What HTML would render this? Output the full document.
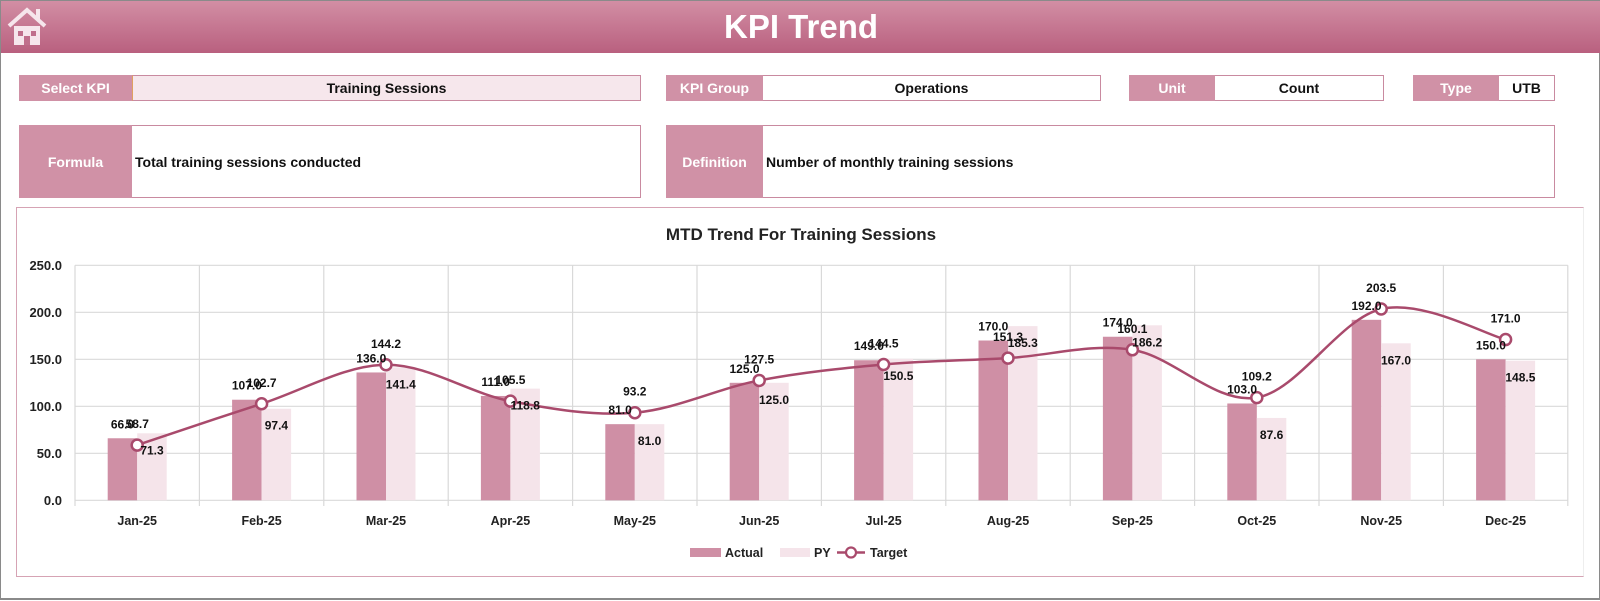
<!DOCTYPE html>
<html><head><meta charset="utf-8"><style>
body{margin:0;width:1600px;height:600px;overflow:hidden;background:#fff;font-family:"Liberation Sans",sans-serif}
#root{position:relative;width:1600px;height:600px;box-sizing:border-box;border:1px solid #8a8a8a;border-bottom:2px solid #8a8a8a}
.hdr{position:absolute;left:0;top:0;width:1600px;height:52px;background:linear-gradient(#d28ea4,#b9607f)}
.hdr h1{margin:0;text-align:center;color:#fff;font-size:33px;line-height:52px;font-weight:bold}
.b{position:absolute;box-sizing:border-box;display:flex;align-items:center;font-weight:bold;font-size:14px;color:#111}
.l{background:#d091a6;color:#fff;justify-content:center}
.v{background:#fff;border:1.5px solid #c98aa0;border-left:none}
.c{justify-content:center}
</style></head><body><div id="root">
<div class="hdr"><h1>KPI Trend</h1>
<svg style="position:absolute;left:5px;top:5px" width="42" height="40" viewBox="0 0 42 40"><path d="M3 20 L21 4 L39 20" stroke="#f6e6ec" stroke-width="4" fill="none"/><rect x="30" y="3" width="4" height="10" fill="#f6e6ec"/><rect x="8" y="20" width="26" height="19" fill="#f6e6ec"/><rect x="12" y="25" width="5" height="5" fill="#c06f8c"/><rect x="25" y="25" width="5" height="5" fill="#c06f8c"/><rect x="18" y="30" width="6" height="9" fill="#c06f8c"/></svg>
</div>
<div class="b l" style="left:18px;top:74px;width:113px;height:26px">Select KPI</div>
<div class="b v c" style="left:131px;top:74px;width:509px;height:26px;background:#f6e7ec;border-left:1px solid #e0a060">Training Sessions</div>
<div class="b l" style="left:665px;top:74px;width:97px;height:26px">KPI Group</div>
<div class="b v c" style="left:762px;top:74px;width:338px;height:26px">Operations</div>
<div class="b l" style="left:1128px;top:74px;width:86px;height:26px">Unit</div>
<div class="b v c" style="left:1214px;top:74px;width:169px;height:26px">Count</div>
<div class="b l" style="left:1412px;top:74px;width:86px;height:26px">Type</div>
<div class="b v c" style="left:1498px;top:74px;width:56px;height:26px">UTB</div>
<div class="b l" style="left:18px;top:124px;width:113px;height:73px">Formula</div>
<div class="b v" style="left:131px;top:124px;width:509px;height:73px;padding-left:3px">Total training sessions conducted</div>
<div class="b l" style="left:665px;top:124px;width:97px;height:73px">Definition</div>
<div class="b v" style="left:762px;top:124px;width:792px;height:73px;padding-left:3px">Number of monthly training sessions</div>
<div style="position:absolute;left:15px;top:206px;width:1568px;height:370px;box-sizing:border-box;border:1.5px solid #d6a3b4;border-right-color:#eee"></div>
<svg id="ch" style="position:absolute;left:0;top:0" width="1600" height="600" font-family="Liberation Sans, sans-serif" font-weight="bold">
<text x="800" y="239" text-anchor="middle" font-size="17" fill="#222">MTD Trend For Training Sessions</text>
<g id="grid" stroke="#d9d9d9" stroke-width="1.2"></g>
<g id="bars"></g>
<path id="ln" fill="none" stroke="#a94a6c" stroke-width="2.5"/>
<g id="mk"></g>
<g font-size="13" fill="#222" text-anchor="end">
<text x="61" y="269">250.0</text><text x="61" y="316">200.0</text><text x="61" y="363">150.0</text><text x="61" y="410">100.0</text><text x="61" y="457">50.0</text><text x="61" y="504">0.0</text>
</g>
<g font-size="12.5" fill="#222" text-anchor="middle">
<text x="136.2" y="524">Jan-25</text><text x="260.6" y="524">Feb-25</text><text x="385" y="524">Mar-25</text><text x="509.4" y="524">Apr-25</text><text x="633.8" y="524">May-25</text><text x="758.2" y="524">Jun-25</text><text x="882.6" y="524">Jul-25</text><text x="1007" y="524">Aug-25</text><text x="1131.4" y="524">Sep-25</text><text x="1255.8" y="524">Oct-25</text><text x="1380.2" y="524">Nov-25</text><text x="1504.6" y="524">Dec-25</text>
</g>
<g font-size="12" fill="#111" text-anchor="middle">
<text x="121.5" y="427.3">66.0</text><text x="151" y="453.3">71.3</text><text x="136.2" y="427.1">58.7</text>
<text x="245.9" y="388.7">107.0</text><text x="275.4" y="428.7">97.4</text><text x="260.6" y="385.8">102.7</text>
<text x="370.3" y="361.5">136.0</text><text x="399.8" y="387.4">141.4</text><text x="385" y="346.8">144.2</text>
<text x="494.7" y="385">111.0</text><text x="524.2" y="408.6">118.8</text><text x="509.4" y="383.1">105.5</text>
<text x="619.1" y="413.2">81.0</text><text x="648.6" y="444.2">81.0</text><text x="633.8" y="394.7">93.2</text>
<text x="743.5" y="371.8">125.0</text><text x="773" y="402.8">125.0</text><text x="758.2" y="362.5">127.5</text>
<text x="867.9" y="349.2">149.0</text><text x="897.4" y="378.8">150.5</text><text x="882.6" y="346.5">144.5</text>
<text x="992.3" y="329.5">170.0</text><text x="1021.8" y="346.1">185.3</text><text x="1007" y="340.1">151.3</text>
<text x="1116.7" y="325.7">174.0</text><text x="1146.2" y="345.3">186.2</text><text x="1131.4" y="331.8">160.1</text>
<text x="1241.1" y="392.5">103.0</text><text x="1270.6" y="438">87.6</text><text x="1255.8" y="379.7">109.2</text>
<text x="1365.5" y="308.8">192.0</text><text x="1395" y="363.3">167.0</text><text x="1380.2" y="291">203.5</text>
<text x="1489.9" y="348.3">150.0</text><text x="1519.4" y="380.7">148.5</text><text x="1504.6" y="321.6">171.0</text>
</g>
<g font-size="12.5" fill="#222">
<rect x="689" y="547" width="31" height="9" fill="#cf8fa5"/><text x="724" y="556">Actual</text>
<rect x="779" y="547" width="30" height="9" fill="#f5e4ea"/><text x="813" y="556">PY</text>
<line x1="836" y1="551.5" x2="864" y2="551.5" stroke="#a94a6c" stroke-width="2.5"/><circle cx="850" cy="551.5" r="5" fill="#fff" stroke="#a94a6c" stroke-width="2.2"/><text x="869" y="556">Target</text>
</g>
</svg>
<script>
(function(){
var NS="http://www.w3.org/2000/svg";
function el(p,t,a){var e=document.createElementNS(NS,t);for(var k in a)e.setAttribute(k,a[k]);p.appendChild(e);return e;}
var A=[66,107,136,111,81,125,149,170,174,103,192,150],P=[71.3,97.4,141.4,118.8,81,125,150.5,185.3,186.2,87.6,167,148.5],T=[58.7,102.7,144.2,105.5,93.2,127.5,144.5,151.3,160.1,109.2,203.5,171];
var y=function(v){return 499.3-0.94*v},cw=124.4,x0=74;
var g=document.getElementById('grid');
for(var k=0;k<6;k++){var yy=264.3+47*k;el(g,'line',{x1:x0,x2:x0+cw*12,y1:yy,y2:yy});}
for(k=0;k<=12;k++){var xx=x0+cw*k;el(g,'line',{x1:xx,x2:xx,y1:264.3,y2:505});}
var b=document.getElementById('bars'),m=document.getElementById('mk'),pts=[];
for(var i=0;i<12;i++){var c=x0+cw*(i+0.5);
el(b,'rect',{x:c-29.5,y:y(A[i]),width:29.5,height:499.3-y(A[i]),fill:'#cf8fa5'});
el(b,'rect',{x:c,y:y(P[i]),width:29.5,height:499.3-y(P[i]),fill:'#f5e4ea'});
pts.push([c,y(T[i])]);}
var d='M'+pts[0][0]+' '+pts[0][1];
for(i=0;i<11;i++){var p0=pts[Math.max(i-1,0)],p1=pts[i],p2=pts[i+1],p3=pts[Math.min(i+2,11)];
d+=' C'+(p1[0]+(p2[0]-p0[0])/6)+' '+(p1[1]+(p2[1]-p0[1])/6)+' '+(p2[0]-(p3[0]-p1[0])/6)+' '+(p2[1]-(p3[1]-p1[1])/6)+' '+p2[0]+' '+p2[1];}
document.getElementById('ln').setAttribute('d',d);
pts.forEach(function(p){el(m,'circle',{cx:p[0],cy:p[1],r:5.5,fill:'#fff',stroke:'#a94a6c','stroke-width':2.5});});
})();
</script>
</div></body></html>
